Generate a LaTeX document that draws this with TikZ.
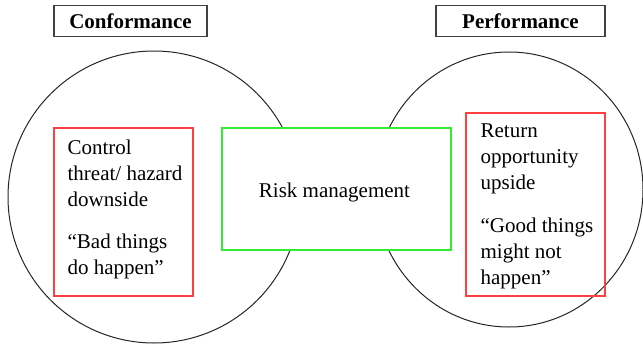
\documentclass[tikz,border=0pt]{standalone}
\usepackage{fontspec}
\setmainfont{Liberation Serif}
\newfontfamily\tnr{Liberation Serif}
\begin{document}
\begin{tikzpicture}[x=1pt,y=-1pt,
  ring/.style={draw=black!85, line width=1pt},
  titlebox/.style={draw=black!75, line width=1.2pt, fill=white, inner sep=0pt, font=\tnr\fontsize{21}{26}\selectfont\bfseries},
  redbox/.style={draw=red!75!white, line width=1.2pt, inner sep=0pt},
  greenbox/.style={draw=green!90!black!80!white, line width=1.2pt, fill=white, inner sep=0pt},
  bodytext/.style={inner sep=0pt, align=left, anchor=north west, font=\tnr\fontsize{21}{26}\selectfont}
]
\useasboundingbox (0,0) rectangle (643,343);
% circles
\draw[ring] (154,197) circle [radius=146];
\draw[ring] (509,189.5) ellipse [x radius=134, y radius=137.5];
% titles
\node[titlebox, minimum width=153pt, minimum height=30.5pt] (conf) at (130.5,21) {Conformance};
\node[titlebox, minimum width=169pt, minimum height=30.5pt] (perf) at (520.5,21) {Performance};
% central box
\node[greenbox, minimum width=229pt, minimum height=122pt] (rm) at (336.5,189) {};
\node[inner sep=0pt, anchor=base, font=\tnr\fontsize{21}{26}\selectfont] (rmtxt) at ([xshift=-2pt,yshift=-8pt]rm.center) {Risk management};
% red boxes
\node[redbox, minimum width=139pt, minimum height=168pt] (left) at (123.5,212) {};
\node[redbox, minimum width=139pt, minimum height=183pt] (right) at (535.5,204.5) {};
\node[bodytext] (lefttxt) at ([xshift=14pt,yshift=-12.5pt]left.north west)
  {Control\\threat/ hazard\\downside\\[16pt]“Bad things\\do happen”};
\node[bodytext] (righttxt) at ([xshift=15pt,yshift=-11.5pt]right.north west)
  {Return\\opportunity\\upside\\[17pt]“Good things\\might not\\happen”};
\end{tikzpicture}
\end{document}
